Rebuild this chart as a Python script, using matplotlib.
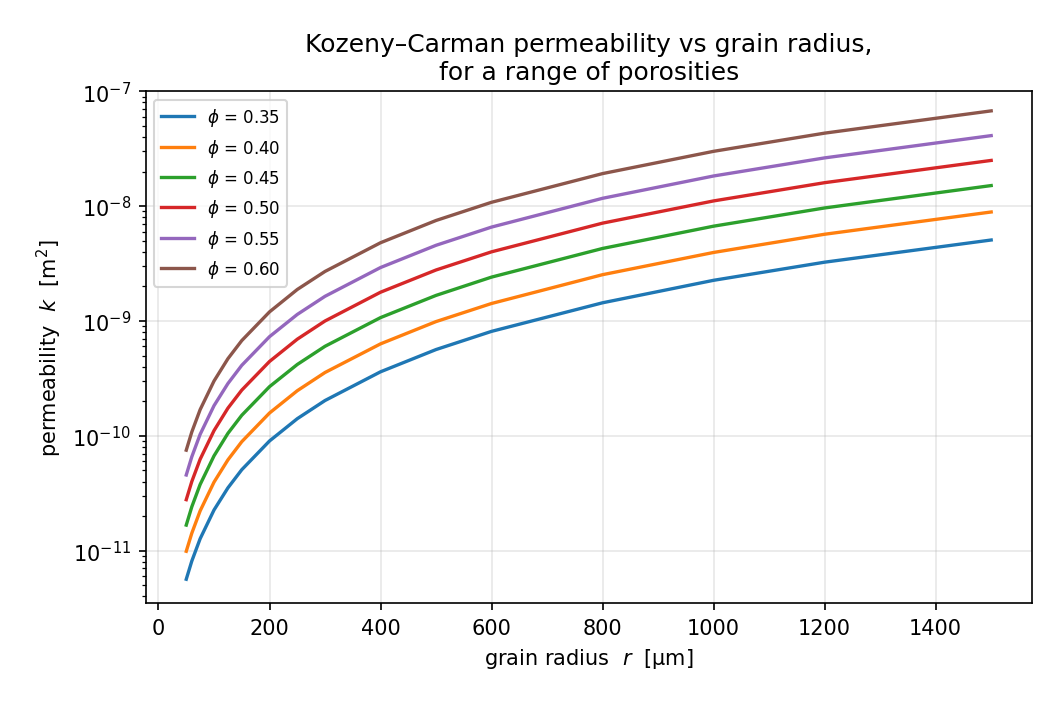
import matplotlib.pyplot as plt

# grain radius in micrometres
radius_um = [50, 60, 75, 100, 125, 150, 200, 250, 300, 400, 500, 600, 800, 1000, 1200, 1500]

porosities = [0.35, 0.40, 0.45, 0.50, 0.55, 0.60]

# permeability k [m^2]
k_035 = [5.64e-12, 8.12e-12, 1.27e-11, 2.26e-11, 3.52e-11, 5.07e-11, 9.02e-11, 1.41e-10,
         2.03e-10, 3.61e-10, 5.64e-10, 8.12e-10, 1.44e-9, 2.26e-9, 3.25e-9, 5.07e-9]
k_040 = [9.88e-12, 1.42e-11, 2.22e-11, 3.95e-11, 6.17e-11, 8.89e-11, 1.58e-10, 2.47e-10,
         3.56e-10, 6.32e-10, 9.88e-10, 1.42e-9, 2.53e-9, 3.95e-9, 5.69e-9, 8.89e-9]
k_045 = [1.67e-11, 2.41e-11, 3.77e-11, 6.69e-11, 1.05e-10, 1.51e-10, 2.68e-10, 4.18e-10,
         6.02e-10, 1.07e-9, 1.67e-9, 2.41e-9, 4.28e-9, 6.69e-9, 9.64e-9, 1.51e-8]
k_050 = [2.78e-11, 4.00e-11, 6.25e-11, 1.11e-10, 1.74e-10, 2.50e-10, 4.44e-10, 6.94e-10,
         1.00e-9, 1.78e-9, 2.78e-9, 4.00e-9, 7.11e-9, 1.11e-8, 1.60e-8, 2.50e-8]
k_055 = [4.56e-11, 6.57e-11, 1.03e-10, 1.83e-10, 2.85e-10, 4.11e-10, 7.30e-10, 1.14e-9,
         1.64e-9, 2.92e-9, 4.56e-9, 6.57e-9, 1.17e-8, 1.83e-8, 2.63e-8, 4.11e-8]
k_060 = [7.50e-11, 1.08e-10, 1.69e-10, 3.00e-10, 4.69e-10, 6.75e-10, 1.20e-9, 1.88e-9,
         2.70e-9, 4.80e-9, 7.50e-9, 1.08e-8, 1.92e-8, 3.00e-8, 4.32e-8, 6.75e-8]

curves = [k_035, k_040, k_045, k_050, k_055, k_060]

fig, ax = plt.subplots(figsize=(7.04, 4.693), dpi=150)
fig.subplots_adjust(left=0.138, right=0.977, top=0.869, bottom=0.142)

for phi, k in zip(porosities, curves):
    ax.plot(radius_um, k, linewidth=1.6, label=f'$\\phi$ = {phi:.2f}')

ax.set_yscale('log')
ax.set_ylim(3.5e-12, 1e-7)
ax.set_xlim(-23, 1573)
ax.set_xlabel('grain radius  $r$  [µm]')
ax.set_ylabel('permeability  $k$  [m$^2$]')
ax.set_title('Kozeny–Carman permeability vs grain radius,\nfor a range of porosities')
ax.grid(True, alpha=0.3)
ax.legend(loc='upper left', fontsize=8)

fig.savefig('out.png', dpi=150)
